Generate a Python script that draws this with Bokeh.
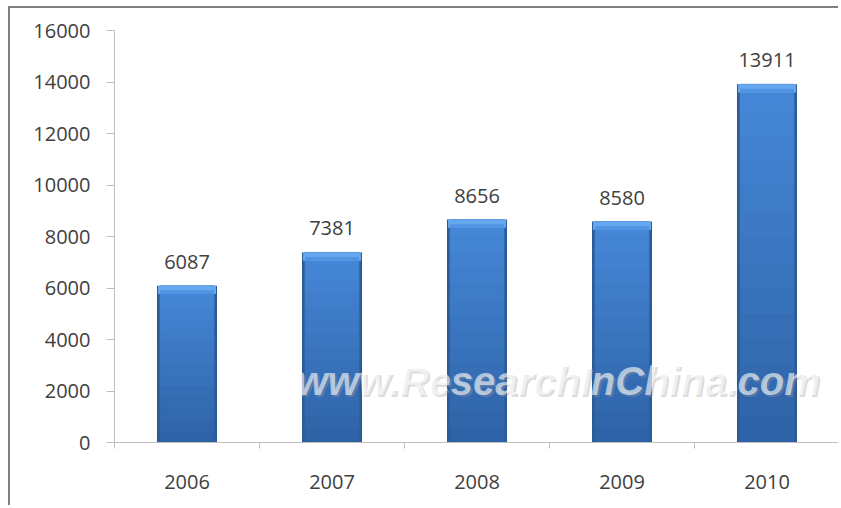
from bokeh.plotting import figure
from bokeh.models import FixedTicker, Range1d, Label, ColumnDataSource
from bokeh.core.properties import value
from bokeh.embed import file_html
from bokeh.resources import INLINE

categories = ["2006", "2007", "2008", "2009", "2010"]
values = [6087, 7381, 8656, 8580, 13911]
y_ticks = [0, 2000, 4000, 6000, 8000, 10000, 12000, 14000, 16000]

xs = [i + 0.5 for i in range(len(categories))]

p = figure(width=830, height=499, output_backend="svg", toolbar_location=None,
           x_range=Range1d(0, len(categories)), y_range=Range1d(0, 16000),
           min_border_left=104, min_border_right=1, min_border_top=22, min_border_bottom=65)
p.margin = (6, 0, 0, 8)
p.styles = {"border-top": "2.5px solid #808080", "border-left": "2.5px solid #808080"}
p.outline_line_color = None
p.grid.visible = False
p.background_fill_color = "white"
p.border_fill_color = "white"

# bars: dark outline, gradient body, light top bevel
p.vbar(x=xs, top=values, width=0.414, fill_color="#2c5b98", line_color=None)
n = 14
def mix(c1, c2, t):
    return "#%02x%02x%02x" % tuple(int(round(a + (b - a) * t)) for a, b in zip(c1, c2))
bot_c = (0x2e, 0x62, 0xa6)
top_c = (0x46, 0x88, 0xd8)
for k in range(n):
    t0 = k / n
    t1 = (k + 1) / n
    c = mix(bot_c, top_c, (k + 0.5) / n)
    p.vbar(x=xs, bottom=[v * t0 for v in values], top=[v * t1 for v in values],
           width=0.372, fill_color=c, line_color=c, line_width=0.8)
bevel = 320
p.vbar(x=xs, bottom=[v - bevel for v in values], top=values, width=0.40,
       fill_color="#66a8ee", line_color=None)
p.vbar(x=xs, bottom=[v - bevel for v in values], top=[v - bevel * 0.55 for v in values], width=0.372,
       fill_color="#5194e2", line_color=None)

# value labels
src = ColumnDataSource(dict(x=xs, y=values, t=[str(v) for v in values]))
p.text(x="x", y="y", text="t", source=src, text_align="center", text_baseline="bottom",
       y_offset=-17, text_font=value("Open Sans"), text_font_size="20px", text_color="#404040")

# watermark
p.add_layout(Label(x=3.06, y=2400, text="www.ResearchInChina.com", text_align="center",
                   text_baseline="middle", text_font="Liberation Sans", text_font_style="bold italic",
                   text_font_size="40px", text_color="#9a9a9a", text_alpha=0.35, x_offset=2, y_offset=-2))
p.add_layout(Label(x=3.06, y=2400, text="www.ResearchInChina.com", text_align="center",
                   text_baseline="middle", text_font="Liberation Sans", text_font_style="bold italic",
                   text_font_size="40px", text_color="white", text_alpha=0.6))

# axes
xa = p.xaxis[0]
xa.ticker = FixedTicker(ticks=xs, minor_ticks=list(range(len(categories) + 1)))
xa.major_label_overrides = {x: c for x, c in zip(xs, categories)}
xa.major_tick_line_color = None
xa.minor_tick_line_color = "#bfbfbf"
xa.minor_tick_out = 6
xa.minor_tick_in = 0
xa.axis_line_color = "#bfbfbf"
xa.major_label_text_font = "Open Sans"
xa.major_label_text_font_size = "20px"
xa.major_label_text_color = "#404040"
xa.major_label_standoff = 26

ya = p.yaxis[0]
ya.ticker = FixedTicker(ticks=y_ticks)
ya.minor_tick_line_color = None
ya.major_tick_line_color = "#bfbfbf"
ya.major_tick_out = 8
ya.major_tick_in = 0
ya.axis_line_color = "#bfbfbf"
ya.major_label_text_font = "Open Sans"
ya.major_label_text_font_size = "20px"
ya.major_label_text_color = "#404040"
ya.major_label_standoff = 16

open("out.html", "w").write(file_html(p, INLINE))
